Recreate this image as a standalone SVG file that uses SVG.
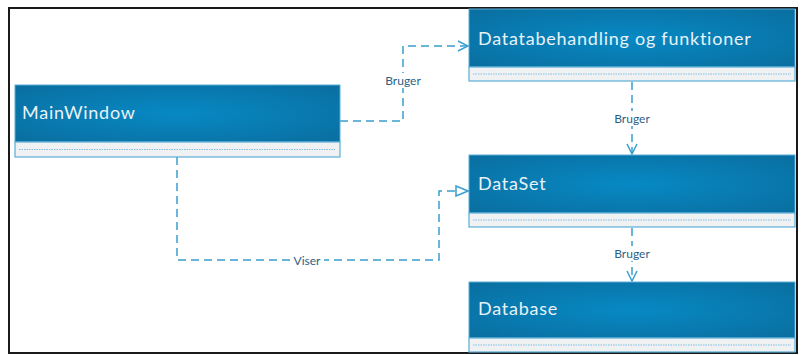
<svg xmlns="http://www.w3.org/2000/svg" width="803" height="355" viewBox="0 0 803 355">
<defs>
<radialGradient id="hg" cx="0.5" cy="0.5" r="0.7">
<stop offset="0" stop-color="#0789c4"/>
<stop offset="1" stop-color="#0a6e9f"/>
</radialGradient>
<marker id="open" viewBox="0 0 12 12" refX="11" refY="6" markerWidth="12" markerHeight="12" markerUnits="userSpaceOnUse" orient="auto">
<path d="M1,1 L11,6 L1,11" fill="none" stroke="#3a9fd0" stroke-width="1.5"/>
</marker>
<marker id="tri" viewBox="0 0 14 12" refX="13" refY="6" markerWidth="14" markerHeight="12" markerUnits="userSpaceOnUse" orient="auto">
<path d="M1,1 L13,6 L1,11 Z" fill="#fff" stroke="#3a9fd0" stroke-width="1.5"/>
</marker>
</defs>
<style>
.hdr{fill:url(#hg);stroke:#5aaed8;stroke-width:1}
.cmp{fill:#eff1f3;stroke:#5aaed8;stroke-width:1.2}
.dot{stroke:#7fbde0;stroke-width:1;stroke-dasharray:1.5 1}
.title{font-family:Lato,"Open Sans",sans-serif;font-size:18px;letter-spacing:0.75px;font-variant-ligatures:none;fill:#e8f2f8}
.con{fill:none;stroke:#3a9fd0;stroke-width:1.5;stroke-dasharray:8 5}
.lbl{font-family:Lato,"Open Sans",sans-serif;font-size:12px;fill:#2b5f86;text-anchor:middle}
.bg{fill:#fff}
</style>
<rect x="9" y="8" width="788" height="345" fill="#fff" stroke="#1a1a1a" stroke-width="2"/>
<g id="connectors">
<path class="con" d="M340,121 H403 V46 H468" marker-end="url(#open)"/>
<rect class="bg" x="383" y="73" width="40" height="15"/>
<text class="lbl" x="403" y="85">Bruger</text>
<path class="con" d="M632,82 V154" marker-end="url(#open)"/>
<rect class="bg" x="612" y="111" width="40" height="15"/>
<text class="lbl" x="632" y="123">Bruger</text>
<path class="con" d="M177,157 V260 H439 V191 H468" marker-end="url(#tri)"/>
<rect class="bg" x="290" y="253" width="34" height="15"/>
<text class="lbl" x="307" y="265">Viser</text>
<path class="con" d="M632,228 V281" stroke-dasharray="6 4" marker-end="url(#open)"/>
<rect class="bg" x="612" y="246" width="40" height="15"/>
<text class="lbl" x="632" y="258">Bruger</text>
</g>
<g id="MainWindow">
<rect class="hdr" x="15" y="85" width="325" height="57"/>
<rect class="cmp" x="15" y="142" width="325" height="15"/>
<line class="dot" x1="19" y1="149.5" x2="335" y2="149.5"/>
<text class="title" x="22" y="119">MainWindow</text>
</g>
<g id="Datatabehandling">
<rect class="hdr" x="469" y="9" width="326" height="58"/>
<rect class="cmp" x="469" y="67" width="326" height="14"/>
<line class="dot" x1="473" y1="74" x2="791" y2="74"/>
<text class="title" x="478" y="45">Datatabehandling og funktioner</text>
</g>
<g id="DataSet">
<rect class="hdr" x="469" y="155" width="326" height="58"/>
<rect class="cmp" x="469" y="213" width="326" height="14"/>
<line class="dot" x1="473" y1="220" x2="791" y2="220"/>
<text class="title" x="478" y="190">DataSet</text>
</g>
<g id="Database">
<rect class="hdr" x="469" y="282" width="326" height="56"/>
<rect class="cmp" x="469" y="338" width="326" height="14"/>
<line class="dot" x1="473" y1="345" x2="791" y2="345"/>
<text class="title" x="478" y="315">Database</text>
</g>
</svg>
